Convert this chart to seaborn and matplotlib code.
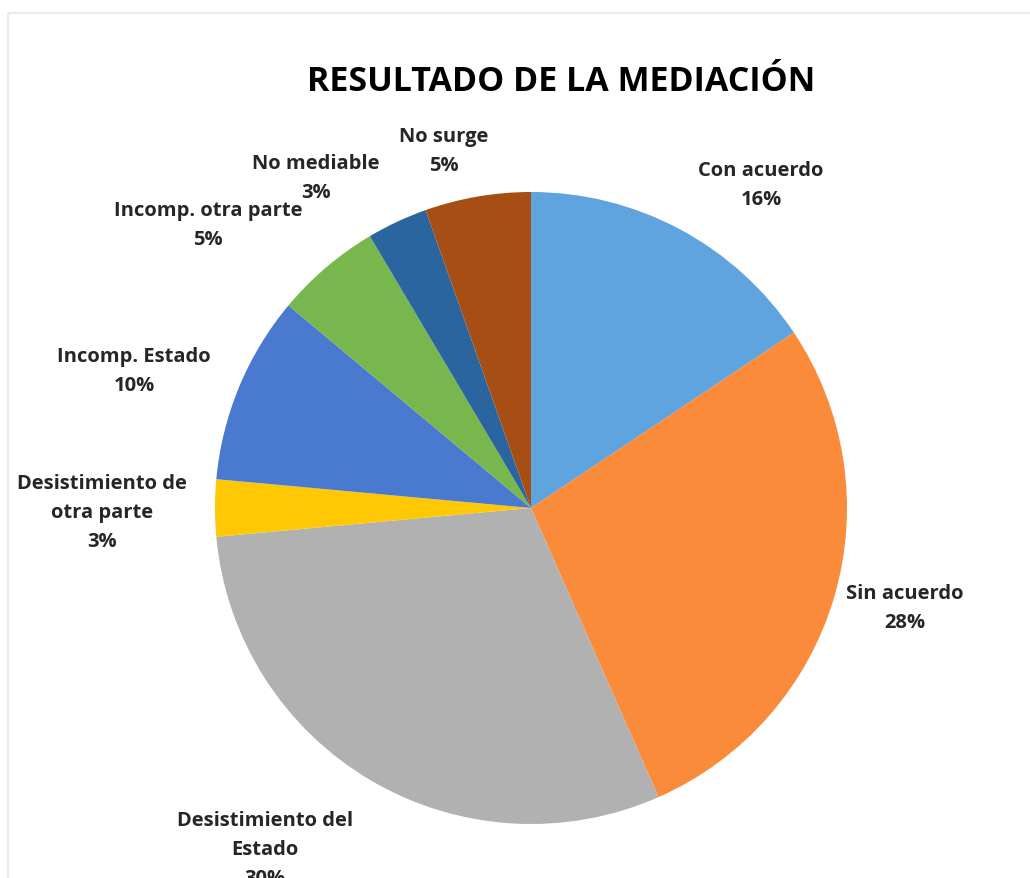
import matplotlib
matplotlib.use("Agg")
import matplotlib.pyplot as plt
import seaborn as sns
from matplotlib.patches import Rectangle

sns.set_theme(style="white")
plt.rcParams['font.family'] = ['Open Sans', 'DejaVu Sans']

# ---- data ----
categories = ["Con acuerdo", "Sin acuerdo", "Desistimiento del\nEstado",
              "Desistimiento de\notra parte", "Incomp. Estado",
              "Incomp. otra parte", "No mediable", "No surge"]
values = [15.6, 27.7, 30.1, 2.9, 9.6, 5.4, 3.1, 5.4]
colors = ["#5FA3DF", "#F98B3B", "#B1B1B1", "#FFC805",
          "#4A79D0", "#78B64E", "#2B65A0", "#A64E14"]
title = "RESULTADO DE LA MEDIACIÓN"

# label centres in pie-radius units (layout)
label_pos = [(0.728, 1.025), (1.184, -0.316), (-0.842, -1.080),
             (-1.358, -0.013), (-1.256, 0.434), (-1.022, 0.896),
             (-0.680, 1.047), (-0.275, 1.130)]

W, H = 1030, 879
fig = plt.figure(figsize=(W / 100, H / 100), dpi=100)
fig.patch.set_facecolor("white")

# faint screenshot border
fig.add_artist(Rectangle((8 / W, -0.01), 1.1, (H - 14) / H + 0.01,
                         transform=fig.transFigure, fill=False,
                         edgecolor="#E6E6E6", linewidth=1.2))

cx, cy, R = 531, 509, 316
k = 1.6
s = R * k
ax = fig.add_axes([(cx - s) / W, (H - (cy + s)) / H, 2 * s / W, 2 * s / H])

total = sum(values)
wedges, _ = ax.pie(values, colors=colors, startangle=90, counterclock=False,
                   radius=1.0, wedgeprops=dict(linewidth=0))
ax.set_xlim(-k, k)
ax.set_ylim(-k, k)
ax.axis("off")

for cat, v, (x, y) in zip(categories, values, label_pos):
    ax.text(x, y, f"{cat}\n{v / total * 100:.0f}%", ha="center", va="center",
            fontsize=14.5, fontweight="bold", color="#262626",
            linespacing=1.6, clip_on=False)

fig.text(561 / W, 1 - 82 / H, title, ha="center", va="center",
         fontsize=24.5, fontweight="bold", color="black")

fig.savefig("out.png", dpi=100, facecolor="white")
